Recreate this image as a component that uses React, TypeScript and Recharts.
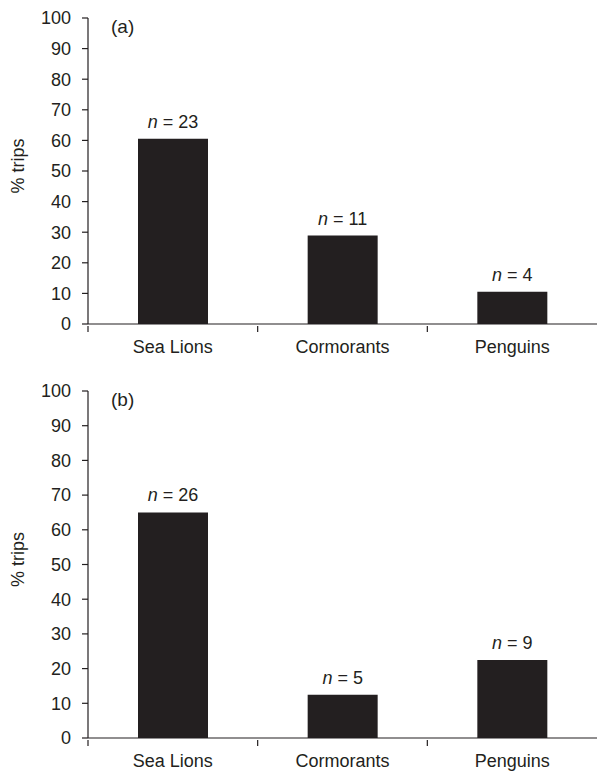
import { Bar, BarChart, LabelList, XAxis, YAxis } from 'recharts';

const CATEGORIES = ['Sea Lions', 'Cormorants', 'Penguins'];
const PCT_A = [60.5, 28.9, 10.5];
const N_A = [23, 11, 4];
const PCT_B = [65, 12.5, 22.5];
const N_B = [26, 5, 9];
const Y_TICKS = [0, 10, 20, 30, 40, 50, 60, 70, 80, 90, 100];

const INK = '#231f20';
const FONT = '"Liberation Sans", Arial, Helvetica, sans-serif';
const FS = 18;

function CategoryTick(props: any) {
  const { x, y, payload } = props;
  const half = payload?.offset ?? 0;
  return (
    <g>
      <line x1={x - half} y1={y - 6} x2={x - half} y2={y} stroke={INK} strokeWidth={1.2} />
      <text
        x={x}
        y={y + 7}
        dy="0.78em"
        textAnchor="middle"
        fill={INK}
        fontSize={FS}
        fontFamily={FONT}
      >
        {payload.value}
      </text>
    </g>
  );
}

function YLabel(props: any) {
  const vb = props.viewBox || {};
  const cx = 18;
  const cy = vb.y + vb.height / 2 - 5;
  return (
    <text
      x={cx}
      y={cy}
      transform={`rotate(-90 ${cx} ${cy})`}
      textAnchor="middle"
      dominantBaseline="central"
      fill={INK}
      fontSize={18}
      fontFamily={FONT}
    >
      % trips
    </text>
  );
}

function Panel({
  tag,
  pct,
  counts,
  height,
}: {
  tag: string;
  pct: number[];
  counts: number[];
  height: number;
}) {
  const data = CATEGORIES.map((name, i) => ({ name, pct: pct[i], n: counts[i] }));

  const renderN = (p: any) => {
    const { x, y, width, index } = p;
    return (
      <text
        x={x + width / 2}
        y={y - 11}
        textAnchor="middle"
        fill={INK}
        fontSize={FS}
        fontFamily={FONT}
      >
        <tspan fontStyle="italic">n</tspan> = {data[index].n}
      </text>
    );
  };

  return (
    <div style={{ position: 'relative', width: 597, height }}>
      <BarChart
        width={597}
        height={height}
        data={data}
        margin={{ top: 18, right: 0, bottom: 6, left: 0 }}
        barCategoryGap={50}
      >
        <XAxis
          dataKey="name"
          height={30}
          axisLine={{ stroke: INK, strokeWidth: 1.2 }}
          tickLine={false}
          tick={<CategoryTick />}
          interval={0}
        />
        <YAxis
          width={88}
          domain={[0, 100]}
          ticks={Y_TICKS}
          interval={0}
          tickSize={6}
          tickMargin={11}
          axisLine={{ stroke: INK, strokeWidth: 1.2 }}
          tickLine={{ stroke: INK, strokeWidth: 1.2 }}
          tick={{ fill: INK, fontSize: FS, fontFamily: FONT }}
          label={{ content: <YLabel /> }}
        />
        <Bar dataKey="pct" fill={INK} isAnimationActive={false}>
          <LabelList dataKey="pct" content={renderN} />
        </Bar>
      </BarChart>
      <div
        style={{
          position: 'absolute',
          left: 111,
          top: 17,
          fontFamily: FONT,
          fontSize: 19,
          color: INK,
          lineHeight: '20px',
        }}
      >
        {tag}
      </div>
    </div>
  );
}

export default function App() {
  return (
    <div style={{ position: 'absolute', left: 0, top: 0, width: 597, height: 773, background: '#fff' }}>
      <div style={{ position: 'absolute', left: 0, top: 0 }}>
        <Panel tag="(a)" pct={PCT_A} counts={N_A} height={360} />
      </div>
      <div style={{ position: 'absolute', left: 0, top: 373 }}>
        <Panel tag="(b)" pct={PCT_B} counts={N_B} height={401} />
      </div>
    </div>
  );
}
